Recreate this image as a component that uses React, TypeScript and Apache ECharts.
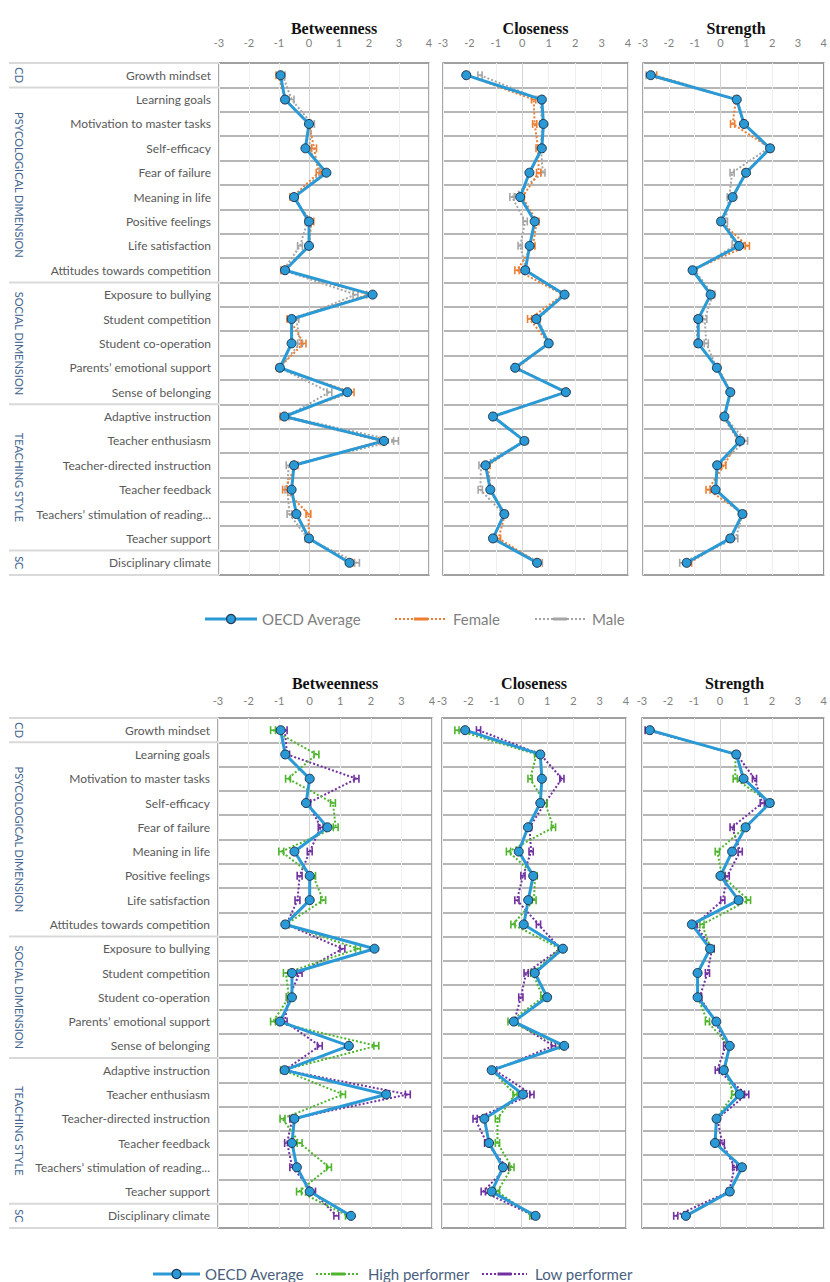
import React, { useEffect, useRef } from "react";
import * as echarts from "echarts";

const categories = [
  "Growth mindset",
  "Learning goals",
  "Motivation to master tasks",
  "Self-efficacy",
  "Fear of failure",
  "Meaning in life",
  "Positive feelings",
  "Life satisfaction",
  "Attitudes towards competition",
  "Exposure to bullying",
  "Student competition",
  "Student co-operation",
  "Parents\u2019 emotional support",
  "Sense of belonging",
  "Adaptive instruction",
  "Teacher enthusiasm",
  "Teacher-directed instruction",
  "Teacher feedback",
  "Teachers\u2019 stimulation of reading...",
  "Teacher support",
  "Disciplinary climate",
];

const groupNames = ["CD", "PSYCOLOGICAL DIMENSION", "SOCIAL DIMENSION", "TEACHING STYLE", "SC"];
const groupStart = [0, 1, 9, 14, 20];
const groupEnd = [0, 8, 13, 19, 20];

const measures = ["Betweenness", "Closeness", "Strength"];
const axisMin = -3;
const axisMax = 4;
const axisInterval = 1;

// OECD average
const oecdBetweenness = [-0.95, -0.8, 0.0, -0.12, 0.58, -0.5, 0.0, 0.0, -0.8, 2.12, -0.58, -0.58, -0.97, 1.28, -0.82, 2.5, -0.5, -0.58, -0.42, 0.0, 1.35];
const oecdCloseness = [-2.12, 0.74, 0.8, 0.74, 0.27, -0.08, 0.47, 0.28, 0.11, 1.6, 0.53, 1.0, -0.27, 1.65, -1.11, 0.08, -1.39, -1.21, -0.68, -1.11, 0.56];
const oecdStrength = [-2.7, 0.63, 0.91, 1.92, 0.99, 0.47, 0.02, 0.72, -1.08, -0.38, -0.86, -0.86, -0.14, 0.38, 0.15, 0.76, -0.13, -0.19, 0.85, 0.38, -1.31];

// Gender
const femaleBetweenness = [-1.02, -0.8, 0.0, 0.17, 0.32, -0.55, 0.08, 0.0, -0.85, 2.0, -0.65, -0.18, -1.0, 1.42, -0.88, 2.4, -0.45, -0.8, -0.02, 0.0, 1.38];
const maleBetweenness = [-0.88, -0.58, 0.1, 0.0, 0.42, -0.45, -0.05, -0.3, -0.85, 1.55, -0.42, -0.3, -0.98, 0.68, -0.75, 2.9, -0.68, -0.72, -0.65, -0.05, 1.6];
const femaleCloseness = [-2.1, 0.43, 0.47, 0.6, 0.62, 0.0, 0.55, 0.4, -0.2, 1.55, 0.28, 1.0, -0.2, 1.6, -1.1, 0.1, -1.3, -1.2, -0.65, -0.9, 0.6];
const maleCloseness = [-1.6, 0.68, 0.75, 0.7, 0.78, -0.39, 0.11, -0.08, 0.15, 1.6, 0.6, 1.0, -0.25, 1.65, -1.1, 0.12, -1.56, -1.59, -0.7, -1.1, 0.68];
const femaleStrength = [-2.55, 0.6, 0.47, 1.95, 0.95, 0.5, 0.0, 1.04, -1.1, -0.35, -0.9, -0.9, -0.1, 0.4, 0.1, 0.7, 0.13, -0.48, 0.9, 0.35, -1.2];
const maleStrength = [-2.8, 0.6, 0.9, 1.85, 0.45, 0.34, 0.19, 0.53, -1.0, -0.3, -0.61, -0.55, -0.15, 0.4, 0.15, 0.97, -0.1, -0.2, 0.85, 0.59, -1.5];

// Performance
const highBetweenness = [-1.2, 0.22, -0.71, 0.76, 0.85, -0.93, 0.11, 0.44, -0.78, 1.58, -0.78, -0.68, -1.2, 2.18, -0.87, 1.09, -0.89, -0.33, 0.63, -0.35, 1.25];
const lowBetweenness = [-0.82, -0.74, 1.53, -0.05, 0.36, 0.0, -0.33, -0.4, -0.76, 1.07, -0.33, -0.68, -0.82, 0.33, -0.82, 3.21, -0.57, -0.74, -0.57, 0.11, 0.87];
const highCloseness = [-2.43, 0.6, 0.35, 0.92, 1.24, -0.47, 0.54, 0.5, -0.3, 1.5, 0.45, 0.84, -0.41, 1.55, -1.1, -0.22, -0.89, -0.89, -0.34, -0.89, 0.42];
const lowCloseness = [-1.61, 0.75, 1.56, 0.92, 0.33, 0.39, 0.08, -0.15, 0.67, 1.5, 0.2, 0.0, -0.25, 1.24, -1.0, 0.42, -1.74, -1.3, -0.54, -1.43, 0.5];
const highStrength = [-2.7, 0.6, 0.59, 1.96, 0.96, -0.1, 0.08, 1.1, -0.69, -0.35, -0.85, -0.85, -0.48, 0.35, 0.2, 0.53, -0.15, -0.15, 0.87, 0.4, -1.3];
const lowStrength = [-2.8, 0.65, 1.33, 1.63, 0.47, 0.78, 0.28, 0.11, -0.95, -0.3, -0.48, -0.78, -0.16, 0.22, -0.1, 1.03, -0.1, 0.09, 0.57, 0.35, -1.7];

const BLUE = "#2A9AD6";
const MARKER_BORDER = "#1F3550";
const ORANGE = "#ED7D31";
const GRAY = "#A5A5A5";
const GREEN = "#4EB52D";
const PURPLE = "#7030A0";
const ERR_HALF = 0.08; // whisker half-width (style)

const panels = [
  {
    top: 63,
    height: 512,
    titleY: 28,
    labelMargin: 15,
    legendY: 619,
    legendColor: "#7F7F7F",
    grids: [
      { left: 219, width: 210 },
      { left: 443, width: 185 },
      { left: 643, width: 186 },
    ],
    oecd: [oecdBetweenness, oecdCloseness, oecdStrength],
    a: { name: "Female", color: ORANGE, data: [femaleBetweenness, femaleCloseness, femaleStrength] },
    b: { name: "Male", color: GRAY, data: [maleBetweenness, maleCloseness, maleStrength] },
    legend: [
      { x1: 205, x2: 257, tx: 262 },
      { x1: 395, x2: 447, tx: 453 },
      { x1: 535, x2: 585, tx: 592 },
    ],
  },
  {
    top: 718,
    height: 510,
    titleY: 683,
    labelMargin: 12,
    legendY: 1274,
    legendColor: "#4A5F80",
    grids: [
      { left: 218, width: 214 },
      { left: 442, width: 184 },
      { left: 642, width: 185 },
    ],
    oecd: [oecdBetweenness, oecdCloseness, oecdStrength],
    a: { name: "High performer", color: GREEN, data: [highBetweenness, highCloseness, highStrength] },
    b: { name: "Low performer", color: PURPLE, data: [lowBetweenness, lowCloseness, lowStrength] },
    legend: [
      { x1: 153, x2: 200, tx: 205 },
      { x1: 316, x2: 360, tx: 368 },
      { x1: 482, x2: 527, tx: 535 },
    ],
  },
];

function errorSeries(gi: number, values: number[], color: string, name: string) {
  return {
    type: "custom",
    name,
    xAxisIndex: gi,
    yAxisIndex: gi,
    z: 3,
    encode: { x: 0, y: 1 },
    data: values.map((v, i) => [v, i]),
    renderItem: (params: any, api: any) => {
      const x = api.value(0);
      const y = api.value(1);
      const l = api.coord([x - ERR_HALF, y]);
      const r = api.coord([x + ERR_HALF, y]);
      const h = 4;
      const style = { stroke: color, lineWidth: 1.6 };
      return {
        type: "group",
        children: [
          { type: "line", shape: { x1: l[0], y1: l[1], x2: r[0], y2: r[1] }, style },
          { type: "line", shape: { x1: l[0], y1: l[1] - h, x2: l[0], y2: l[1] + h }, style },
          { type: "line", shape: { x1: r[0], y1: r[1] - h, x2: r[0], y2: r[1] + h }, style },
        ],
      };
    },
  };
}

function buildOption() {
  const grid: any[] = [];
  const xAxis: any[] = [];
  const yAxis: any[] = [];
  const series: any[] = [];
  const graphic: any[] = [];
  const splitColors = [] as string[];
  for (let t = axisMin; t <= axisMax; t += axisInterval) {
    splitColors.push(t === 0 ? "#D4D4D4" : "#EFEFEF");
  }

  panels.forEach((p, pi) => {
    const rowH = p.height / categories.length;
    p.grids.forEach((g, k) => {
      const gi = pi * 3 + k;
      grid.push({
        left: g.left,
        top: p.top,
        width: g.width,
        height: p.height,
        show: true,
        borderColor: "#8C8C8C",
        borderWidth: 1.5,
        containLabel: false,
      });
      xAxis.push({
        gridIndex: gi,
        type: "value",
        position: "top",
        min: axisMin,
        max: axisMax,
        interval: axisInterval,
        axisLine: { show: false },
        axisTick: { show: false },
        axisLabel: { color: "#7F7F7F", fontSize: 11, margin: p.labelMargin, fontFamily: "Lato" },
        splitLine: { show: true, lineStyle: { color: splitColors, width: 1 } },
      });
      yAxis.push({
        gridIndex: gi,
        type: "category",
        data: categories,
        inverse: true,
        boundaryGap: true,
        axisLine: { show: false },
        axisTick: { show: false },
        axisLabel: {
          show: k === 0,
          interval: 0,
          color: "#595959",
          fontSize: 12,
          fontFamily: "Lato",
          margin: 8,
        },
        splitLine: { show: true, interval: 0, lineStyle: { color: "#9E9E9E", width: 1.5 } },
      });
      series.push({
        type: "line",
        name: p.b.name,
        xAxisIndex: gi,
        yAxisIndex: gi,
        z: 2,
        data: p.b.data[k].map((v, i) => [v, i]),
        symbol: "none",
        lineStyle: { color: p.b.color, width: 2, type: [2, 2] },
        itemStyle: { color: p.b.color },
      });
      series.push({
        type: "line",
        name: p.a.name,
        xAxisIndex: gi,
        yAxisIndex: gi,
        z: 2,
        data: p.a.data[k].map((v, i) => [v, i]),
        symbol: "none",
        lineStyle: { color: p.a.color, width: 2, type: [2, 2] },
        itemStyle: { color: p.a.color },
      });
      series.push(errorSeries(gi, p.b.data[k], p.b.color, p.b.name + " err"));
      series.push(errorSeries(gi, p.a.data[k], p.a.color, p.a.name + " err"));
      series.push({
        type: "line",
        name: "OECD Average",
        xAxisIndex: gi,
        yAxisIndex: gi,
        z: 5,
        data: p.oecd[k].map((v, i) => [v, i]),
        symbol: "circle",
        symbolSize: 9,
        lineStyle: { color: BLUE, width: 3 },
        itemStyle: { color: BLUE, borderColor: MARKER_BORDER, borderWidth: 1 },
      });
      graphic.push({
        type: "text",
        x: g.left + g.width / 2 + (k === 0 ? 10 : 0),
        y: p.titleY,
        style: {
          text: measures[k],
          fill: "#111",
          font: "bold 16px 'Liberation Serif'",
          textAlign: "center",
          textVerticalAlign: "middle",
        },
      });
    });

    // left group lines & labels
    const lineX2 = p.grids[0].left;
    const boundaries = [0, ...groupEnd.map((e) => e + 1)];
    boundaries.forEach((b) => {
      const y = p.top + b * rowH;
      graphic.push({
        type: "line",
        shape: { x1: 9, y1: y, x2: lineX2, y2: y },
        style: { stroke: "#D9D9D9", lineWidth: 2 },
      });
    });
    groupNames.forEach((name, gi) => {
      const yc = p.top + ((groupStart[gi] + groupEnd[gi] + 1) / 2) * rowH;
      graphic.push({
        type: "text",
        x: 19,
        y: yc,
        rotation: -Math.PI / 2,
        style: {
          text: name,
          fill: "#44648F",
          font: "11px Lato",
          textAlign: "center",
          textVerticalAlign: "middle",
        },
      });
    });

    // legend
    const ly = p.legendY;
    const names = ["OECD Average", p.a.name, p.b.name];
    const colors = [BLUE, p.a.color, p.b.color];
    p.legend.forEach((L, li) => {
      if (li === 0) {
        graphic.push({
          type: "line",
          shape: { x1: L.x1, y1: ly, x2: L.x2, y2: ly },
          style: { stroke: BLUE, lineWidth: 3 },
        });
        graphic.push({
          type: "circle",
          shape: { cx: (L.x1 + L.x2) / 2, cy: ly, r: 4.5 },
          style: { fill: BLUE, stroke: MARKER_BORDER, lineWidth: 1.2 },
        });
      } else {
        graphic.push({
          type: "line",
          shape: { x1: L.x1, y1: ly, x2: L.x2, y2: ly },
          style: { stroke: colors[li], lineWidth: 2, lineDash: [2, 2] },
        });
        const mid = (L.x1 + L.x2) / 2;
        graphic.push({
          type: "line",
          shape: { x1: mid - 7, y1: ly, x2: mid + 7, y2: ly },
          style: { stroke: colors[li], lineWidth: 3 },
        });
      }
      graphic.push({
        type: "text",
        x: L.tx,
        y: ly,
        style: {
          text: names[li],
          fill: p.legendColor,
          font: "15px Lato",
          textAlign: "left",
          textVerticalAlign: "middle",
        },
      });
    });
  });

  return {
    animation: false,
    backgroundColor: "#ffffff",
    grid,
    xAxis,
    yAxis,
    series,
    graphic: { elements: graphic },
  };
}

export default function App() {
  const ref = useRef<HTMLDivElement>(null);
  useEffect(() => {
    document.body.style.margin = "0";
    if (!ref.current) return;
    const chart = echarts.init(ref.current, null, { renderer: "svg" });
    chart.setOption(buildOption() as any);
    return () => {
      chart.dispose();
    };
  }, []);
  return (
    <div
      ref={ref}
      style={{ position: "absolute", left: 0, top: 0, width: 830, height: 1282 }}
    />
  );
}
